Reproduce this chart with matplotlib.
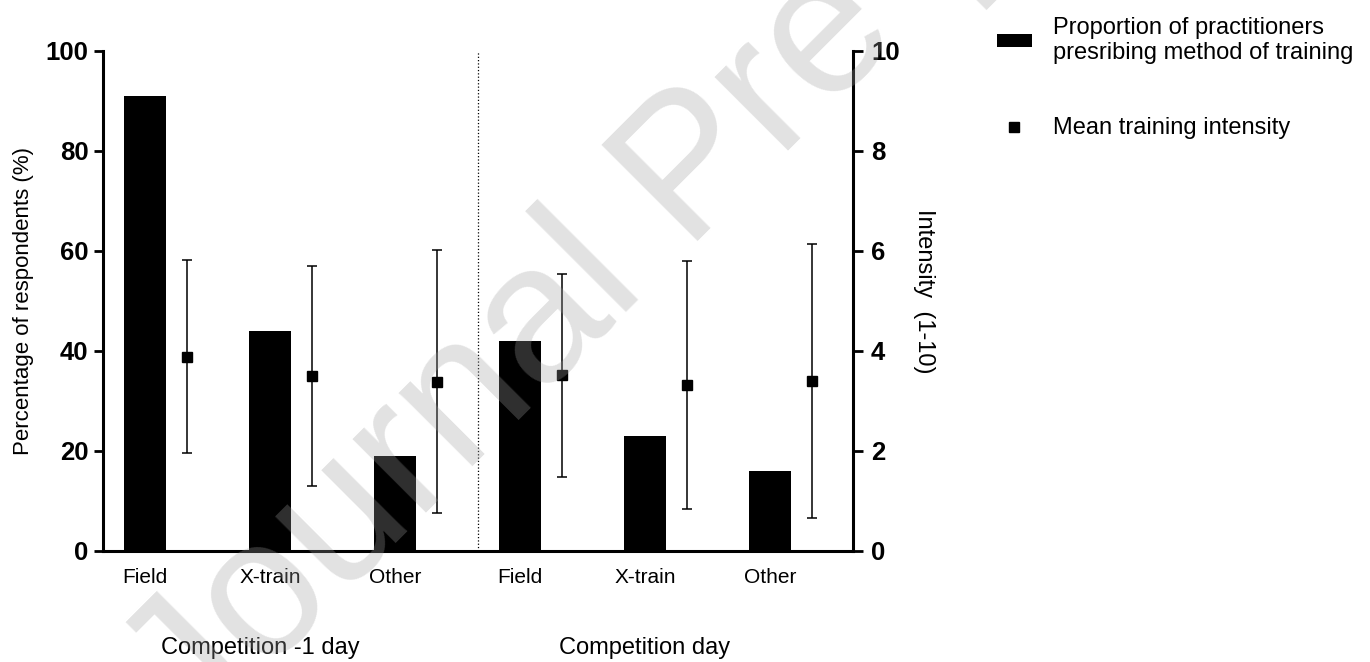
import matplotlib
matplotlib.use('Agg')
import matplotlib.pyplot as plt
from matplotlib.lines import Line2D
from matplotlib.patches import Patch
import matplotlib.transforms as mtransforms
import numpy as np

plt.rcParams['font.family'] = ['Liberation Sans', 'DejaVu Sans']

categories = ['Field', 'X-train', 'Other', 'Field', 'X-train', 'Other']
groups = ['Competition -1 day', 'Competition day']
proportion = [91, 44, 19, 42, 23, 16]          # % of respondents
intensity_mean = [3.88, 3.5, 3.38, 3.51, 3.32, 3.39]
intensity_sd = [1.93, 2.2, 2.63, 2.03, 2.48, 2.74]

x = np.arange(len(categories))

fig = plt.figure(figsize=(13.7, 6.62), dpi=100)
ax = fig.add_axes([0.0752, 0.1677, 0.5474, 0.756])
ax2 = ax.twinx()

ax.bar(x, proportion, width=0.336, color='black', zorder=2)
ax.axvline(2.667, ymin=0, ymax=1, color='black', linestyle=':', linewidth=0.9, zorder=1)

ax2.errorbar(x + 0.333, intensity_mean, yerr=intensity_sd, fmt='s', color='black',
             markersize=7.5, elinewidth=1.1, capsize=3.5, capthick=1.1, zorder=3)

ax.set_xlim(-0.336, 5.664)
ax.set_ylim(0, 100)
ax2.set_ylim(0, 10)
ax.set_yticks([0, 20, 40, 60, 80, 100])
ax2.set_yticks([0, 2, 4, 6, 8, 10])
ax.set_xticks(x)
ax.set_xticklabels(categories, fontsize=15)

for a in (ax, ax2):
    for s in a.spines.values():
        s.set_linewidth(2.2)
    a.spines['top'].set_visible(False)
ax.spines['right'].set_visible(False)
ax2.spines['left'].set_visible(False)
ax2.spines['bottom'].set_visible(False)

ax.tick_params(axis='y', length=6.5, width=2, pad=4, labelsize=18.5)
ax2.tick_params(axis='y', length=7, width=2, pad=6, labelsize=18.5)
ax.tick_params(axis='x', length=0, pad=12)
for lab in ax.get_yticklabels() + ax2.get_yticklabels():
    lab.set_fontweight('bold')

ax.set_ylabel('Percentage of respondents (%)', fontsize=16, labelpad=8.5)
ax2.set_ylabel('Intensity  (1-10)', fontsize=17, rotation=270, labelpad=25)
ax2.yaxis.set_label_coords(1.11, 0.518)

trans = mtransforms.blended_transform_factory(ax.transData, ax.transAxes)
ax.text(0.92, -0.194, groups[0], transform=trans, ha='center', va='center', fontsize=17)
ax.text(4.0, -0.194, groups[1], transform=trans, ha='center', va='center', fontsize=17)

handles = [Patch(facecolor='black', edgecolor='none'),
           Line2D([], [], marker='s', color='black', linestyle='none', markersize=7.5)]
labels = ['Proportion of practitioners\npresribing method of training', 'Mean training intensity']
fig.legend(handles, labels, loc='upper left', bbox_to_anchor=(0.7277, 0.975), frameon=False,
           fontsize=17, handlelength=1.48, handleheight=0.47, handletextpad=0.9,
           labelspacing=2.25, borderpad=0, borderaxespad=0)

# watermark
fig.text(194 / 1370, 1 - 745 / 662, 'Journal Pre-proof', rotation=45, rotation_mode='anchor',
         ha='left', va='baseline', fontsize=141, color='#9e9e9e', alpha=0.3, zorder=10)

fig.savefig('out.png', dpi=100)
